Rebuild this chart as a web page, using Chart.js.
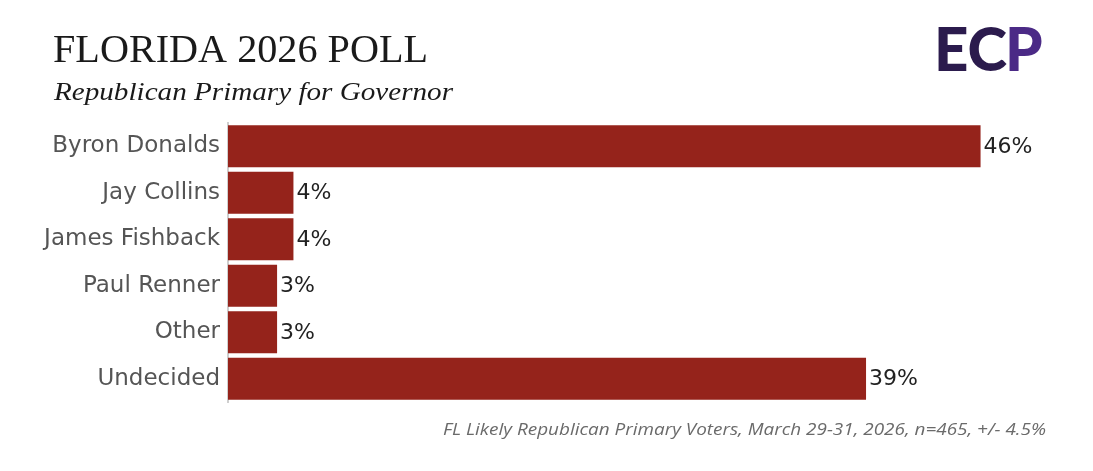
<!DOCTYPE html>
<html>
<head>
<meta charset="utf-8">
<script src="https://cdn.jsdelivr.net/npm/chart.js@4.4.1/dist/chart.umd.min.js"></script>
<style>
html,body{margin:0;padding:0;background:#fff;}
#wrap{width:1093px;height:471px;position:relative;}
</style>
</head>
<body>
<div id="wrap"><canvas id="c" width="1093" height="471"></canvas></div>
<script>
const categories = ["Byron Donalds","Jay Collins","James Fishback","Paul Renner","Other","Undecided"];
const values = [46, 4, 4, 3, 3, 39];
const titleText = "FLORIDA 2026 POLL";
const subtitleText = "Republican Primary for Governor";
const footnoteText = "FL Likely Republican Primary Voters, March 29-31, 2026, n=465, +/- 4.5%";

const barColor = "#95231b";

function fitText(ctx, text, x, y, targetWidth) {
  const w = ctx.measureText(text).width;
  ctx.save();
  ctx.translate(x, y);
  ctx.scale(targetWidth / w, 1);
  ctx.fillText(text, 0, 0);
  ctx.restore();
}

const overlay = {
  id: 'overlay',
  afterDraw(chart) {
    const ctx = chart.ctx;
    ctx.save();
    // title
    ctx.fillStyle = '#1a1a1a';
    ctx.textBaseline = 'alphabetic';
    ctx.textAlign = 'left';
    ctx.font = '39px "Liberation Serif", "DejaVu Serif", serif';
    fitText(ctx, titleText, 53, 62, 375);
    ctx.font = 'italic 26px "Liberation Serif", "DejaVu Serif", serif';
    fitText(ctx, subtitleText, 54, 100, 399);
    // footnote
    ctx.fillStyle = '#6a6a6a';
    ctx.font = 'italic 17px "Open Sans", "Lato", sans-serif';
    ctx.textAlign = 'left';
    fitText(ctx, footnoteText, 443, 435, 603);
    // value labels
    const meta = chart.getDatasetMeta(0);
    ctx.fillStyle = '#222';
    ctx.textAlign = 'left';
    ctx.textBaseline = 'middle';
    ctx.font = '22px "DejaVu Sans", "Open Sans", sans-serif';
    meta.data.forEach((bar, i) => {
      ctx.fillText(values[i] + '%', bar.x + 3, bar.y + 1);
    });
    // logo
    ctx.textAlign = 'left';
    ctx.textBaseline = 'alphabetic';
    ctx.font = '900 60px "Lato", "Open Sans", sans-serif';
    ctx.fillStyle = '#2b1b4d';
    ctx.fillText('EC', 934, 71);
    const w = ctx.measureText('EC').width;
    ctx.fillStyle = '#4b2a86';
    ctx.fillText('P', 934 + w - 2, 71);
    ctx.restore();
  }
};

new Chart(document.getElementById('c'), {
  type: 'bar',
  data: {
    labels: categories,
    datasets: [{
      data: values,
      backgroundColor: barColor,
      borderWidth: 0,
      categoryPercentage: 1,
      barPercentage: 0.9
    }]
  },
  options: {
    indexAxis: 'y',
    responsive: false,
    animation: false,
    layout: { padding: { left: 0, right: 47, top: 123, bottom: 69 } },
    plugins: { legend: { display: false }, tooltip: { enabled: false } },
    scales: {
      x: { display: false, min: 0, max: 50 },
      y: {
        afterFit(scale) { scale.width = 228; },
        grid: { color: 'transparent', drawTicks: false },
        border: { display: true, color: '#cfcfcf', width: 2 },
        ticks: {
          color: '#555',
          padding: 8,
          font: { family: '"DejaVu Sans", "Open Sans", sans-serif', size: 23 }
        }
      }
    }
  },
  plugins: [overlay]
});
</script>
</body>
</html>
